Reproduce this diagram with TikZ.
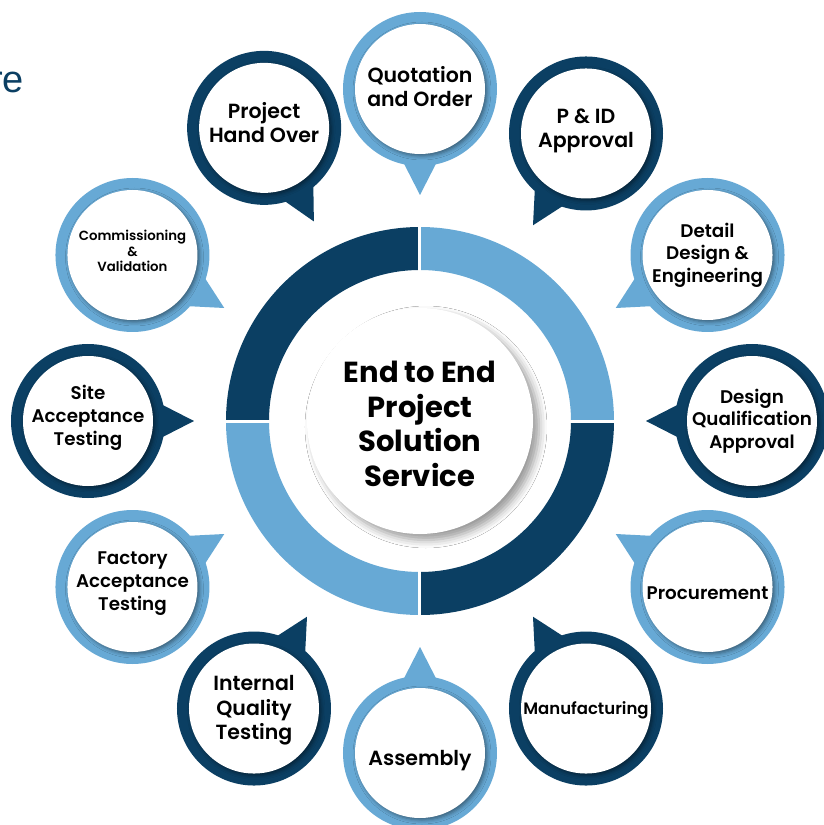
\documentclass[tikz,border=0pt]{standalone}
\usepackage{fontspec}
\setmainfont{Poppins}
\newfontfamily\semibold{Poppins SemiBold}
\newfontfamily\headfont{Liberation Sans}
\usetikzlibrary{calc,shadows.blur}
\definecolor{navy}{HTML}{0B3F63}
\definecolor{sky}{HTML}{67A9D5}
\tikzset{
  inshadow/.style={blur shadow={shadow xshift=2pt,shadow yshift=-2pt,shadow blur radius=4pt,shadow opacity=45}},
  hubshadow/.style={blur shadow={shadow xshift=6pt,shadow yshift=-6pt,shadow blur radius=8pt,shadow opacity=40}},
  bubbletext/.style={align=center,inner sep=0pt,text=black}
}
\begin{document}
\begin{tikzpicture}[x=1pt,y=1pt]
\path[use as bounding box,fill=white] (-420,-404) rectangle (404,421);
\node[anchor=base east,inner sep=0pt,text=navy,font=\headfont\fontsize{38}{40}\selectfont] (head) at (-396,328) {re};
\foreach \s/\c in {0/sky,90/navy,180/sky,270/navy}
  \fill[\c] (\s:194) arc (\s:\s+90:194) -- ({\s+90}:151) arc (\s+90:\s:151) -- cycle;
\draw[white,line width=3pt] (-200,0) -- (200,0) (0,-200) -- (0,200);
\fill[white,hubshadow] (0,0) circle (113);
\node[bubbletext,font=\bfseries\fontsize{29}{34.5}\selectfont] (hub) at (0,-3) {End to End\\Project\\Solution\\Service};
\foreach \a/\c/\fs/\lh/\dy/\txt [count=\i] in {
  90/sky/20.5/24/2/{Quotation\\and Order},
  60/navy/20.5/24/3/{P \& ID\\Approval},
  30/sky/18.3/22.5/0/{Detail\\Design \&\\Engineering},
  0/navy/18.3/22.5/0/{Design\\Qualification\\Approval},
  -30/sky/18.3/20/-6/{Procurement},
  -60/navy/16.5/18/-2/{Manufacturing},
  -90/sky/20.5/23/-8/{Assembly},
  -120/navy/20.5/24.5/-2/{Internal\\Quality\\Testing},
  -150/sky/18.3/23/3/{Factory\\Acceptance\\Testing},
  180/navy/18.3/23/3/{Site\\Acceptance\\Testing},
  150/sky/13.3/15.5/4/{Commissioning\\\&\\Validation},
  118/navy/20.5/24/5/{Project\\Hand Over}}
{
  \coordinate (c\i) at (\a:332);
  \fill[\c] ($(c\i)+({\a+165}:72)$) -- ($(c\i)+({\a+180}:106)$) -- ($(c\i)+({\a+195}:72)$) -- cycle;
  \fill[\c] (c\i) circle (77);
  \fill[white,inshadow] (c\i) circle (65);
  \node[bubbletext,font=\semibold\fontsize{\fs}{\lh}\selectfont] (b\i) at ($(c\i)+(0,\dy)$) {\txt};
}
\end{tikzpicture}
\end{document}
